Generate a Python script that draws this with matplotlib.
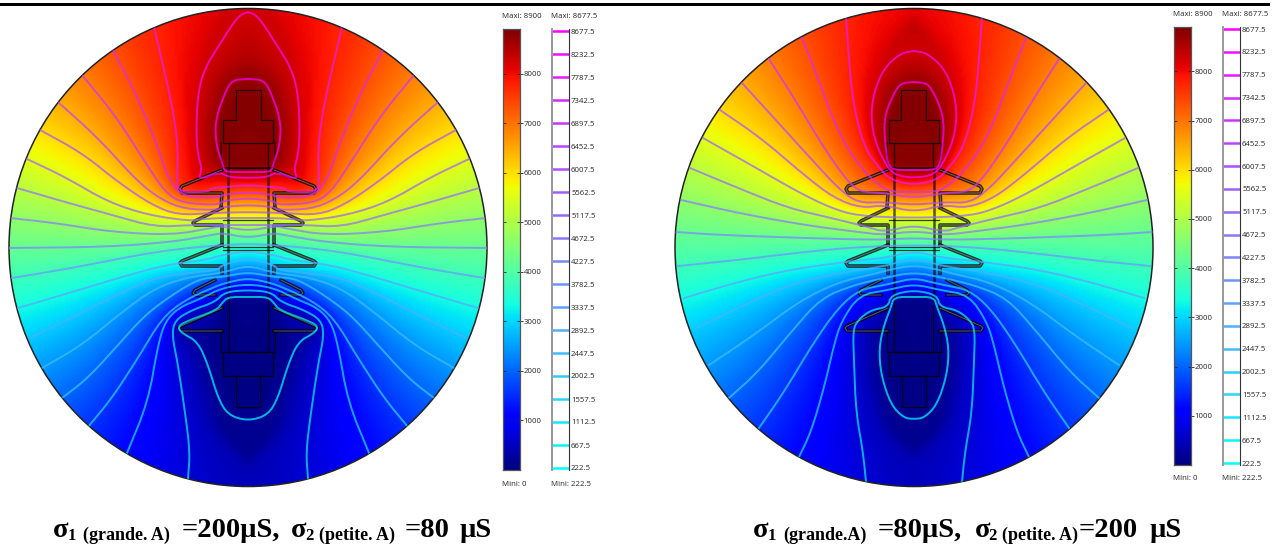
#!/usr/bin/python
# -*- coding: utf-8 -*-
import numpy as np
import matplotlib
matplotlib.use('Agg')
from matplotlib import pyplot as plt
from matplotlib.patches import Circle, Rectangle
from matplotlib.transforms import IdentityTransform

W, H = 1286, 549

# contour levels, top electrode to bottom electrode
levels = [8677.5, 8232.5, 7787.5, 7342.5, 6897.5, 6452.5, 6007.5, 5562.5, 5117.5, 4672.5,
          4227.5, 3782.5, 3337.5, 2892.5, 2447.5, 2002.5, 1557.5, 1112.5, 667.5, 222.5]
bar_ticks = [1000, 2000, 3000, 4000, 5000, 6000, 7000, 8000]
v_max = 8900
v_min = 0

# half contours: (distance from axis, y in picture)
left_contours = [
    [(0,79),(16,80),(23,93),(30,112),(33,128),(31,148),(26,162),(24,170),(20,172),(0,172)],
    [(0,12),(8,15),(16,25),(30,47),(43,68),(50,92),(52,132),(50,155),(46,170),(50,180),(28,172),(20,177),(0,178)],
    [(94,27),(85,65),(76,105),(70,145),(71,178),(70,192),(40,192),(36,188),(23,187),(0,185)],
    [(135,50),(110,98),(90,148),(80,178),(66,197),(30,198),(26,195),(0,192)],
    [(166,75),(133,115),(103,162),(83,192),(66,203),(30,205),(26,201),(0,198)],
    [(190,102),(150,138),(110,182),(86,200),(63,209),(30,210),(26,207),(0,205)],
    [(208,130),(166,153),(130,182),(96,205),(70,215),(36,213),(0,212)],
    [(221,159),(183,177),(140,202),(100,215),(58,221),(45,219),(26,218),(0,218)],
    [(231,188),(183,202),(136,215),(93,227),(56,225),(30,225),(0,225)],
    [(238,218),(193,223),(136,232),(76,235),(36,228),(28,226),(0,231)],
    [(240,248),(143,247),(76,242),(36,235),(26,233),(0,238)],
    [(236,278),(176,268),(110,255),(70,249),(26,245),(0,244)],
    [(230,308),(176,292),(126,277),(83,265),(43,260),(26,255),(0,251)],
    [(218,338),(176,318),(126,292),(93,278),(60,273),(30,270),(26,265),(0,258)],
    [(206,368),(166,345),(126,312),(93,288),(60,277),(26,273),(0,265)],
    [(186,398),(160,378),(130,345),(103,315),(76,295),(56,283),(43,278),(26,277),(0,272)],
    [(160,427),(136,398),(110,358),(86,318),(63,300),(36,288),(23,283),(0,278)],
    [(121,453),(100,402),(90,345),(83,322),(70,308),(46,298),(26,288),(0,284)],
    [(60,478),(58,452),(63,412),(70,365),(76,335),(73,320),(56,310),(33,302),(23,292),(0,290)],
    [(0,297),(20,297),(26,303),(31,310),(66,323),(70,328),(66,333),(50,342),(40,365),(30,398),(20,415),(0,421)],
]
right_contours = [
    [(0,82),(13,83),(20,93),(28,112),(30,128),(28,150),(26,165),(20,170),(0,170)],
    [(0,51),(13,53),(30,68),(40,92),(43,115),(40,138),(30,162),(20,175),(0,178)],
    [(68,18),(65,60),(61,103),(50,147),(35,168),(23,180),(0,185)],
    [(112,38),(96,78),(80,122),(63,155),(40,182),(23,192),(0,192)],
    [(145,59),(120,98),(90,148),(66,182),(53,192),(30,193),(0,198)],
    [(172,83),(140,118),(100,162),(76,188),(56,203),(30,202),(0,205)],
    [(194,110),(153,138),(110,175),(80,198),(53,208),(30,205),(0,212)],
    [(211,138),(163,165),(116,192),(83,208),(56,216),(0,218)],
    [(224,168),(176,188),(126,208),(83,218),(46,227),(30,232),(0,225)],
    [(233,200),(176,213),(110,225),(56,232),(30,235),(0,231)],
    [(238,232),(193,235),(110,238),(36,240),(0,238)],
    [(236,266),(176,260),(110,252),(56,247),(0,245)],
    [(230,298),(176,282),(126,270),(70,262),(30,258),(0,251)],
    [(218,328),(176,308),(126,285),(76,273),(33,267),(0,258)],
    [(205,365),(160,335),(116,302),(76,282),(36,273),(26,270),(0,265)],
    [(185,398),(156,372),(123,332),(93,298),(60,285),(30,278),(0,272)],
    [(155,428),(130,392),(100,342),(76,308),(55,290),(30,285),(21,283),(0,278)],
    [(115,457),(103,432),(90,388),(80,345),(73,322),(55,295),(26,290),(0,284)],
    [(48,482),(51,452),(58,412),(60,362),(61,330),(56,320),(43,310),(26,307),(23,295),(0,290)],
    [(0,297),(20,297),(23,307),(30,325),(35,348),(33,375),(23,405),(10,418),(0,419)],
]

# the two electrodes, they sit at the max and min of the field
top_electrode = [(0,100),(14,100),(14,122),(22,122),(22,165),(0,165)]
bottom_electrode = [(0,300),(18,300),(18,350),(22,350),(22,376),(12,376),(12,405),(0,405)]

# insulator outline, same in both panels
outline_paths = [
    [(0,90),(12.5,90),(12.5,120),(25,120),(25,143),(0,143)],
    [(27,143),(27,160),(25,168)],
    [(19.5,143),(19.5,168),(0,168)],
    [(25,220),(0,220)],
    [(25,247),(0,247)],
    [(25,250),(0,250)],
    [(19.5,297),(0,297)],
    [(19.5,297),(19.5,352),(0,352)],
    [(27,330),(27,352),(0,352)],
    [(25,352),(25,376),(0,376)],
    [(12,376),(12,407),(0,407)],
]
core_path = [(20,168),(20,297)]
shed_paths = [
    [(26,170),(66,186),(68,189),(66,193),(26,193),(27,207)],
    [(26,208),(53,221),(55,223),(53,225),(26,225),(26,245)],
    [(26,245),(66,261),(68,263),(66,266),(26,266),(26,273)],
    [(33,280),(53,290),(55,293),(53,295),(33,295)],
    [(26,308),(67,326),(69,328),(67,331),(26,331)],
]

# caption pieces: text, size, x in picture, drop below baseline
left_caption = [('σ', 20.5, 53, 0), ('1', 12, 68, 3), ('(grande. A)', 13, 83, 3), ('=200µS,', 20.5, 182, 0),
                ('σ', 20.5, 291, 0), ('2', 12, 305, 3), ('(petite. A)', 13, 319, 3), ('=80', 20.5, 405, 0),
                ('µS', 20.5, 460, 0)]
right_caption = [('σ', 20.5, 753, 0), ('1', 12, 768, 3), ('(grande.A)', 13, 783, 3), ('=80µS,', 20.5, 878, 0),
                 ('σ', 20.5, 975, 0), ('2', 12, 988, 3), ('(petite. A)', 13, 1002, 3), ('=200', 20.5, 1079, 0),
                 ('µS', 20.5, 1150, 0)]


def smooth_full(path, n=2):
    # mirror the half contour and round its corners
    p = np.array(path, dtype=float)
    q = np.vstack([np.c_[-p[:, 0], p[:, 1]], p[::-1]])
    keep = np.r_[True, np.any(np.diff(q, axis=0) != 0, axis=1)]
    q = q[keep]
    for _ in range(n):
        a, b = q[:-1], q[1:]
        mid = np.empty((2 * len(a), 2))
        mid[0::2] = 0.75 * a + 0.25 * b
        mid[1::2] = 0.25 * a + 0.75 * b
        q = np.vstack([q[0], mid, q[-1]])
    return q


def densify(p, step=2.0):
    d = np.r_[0, np.cumsum(np.hypot(*np.diff(p, axis=0).T))]
    s = np.arange(0, d[-1] + step, step)
    return np.c_[np.interp(s, d, p[:, 0]), np.interp(s, d, p[:, 1])]


def blur(a, size=5, passes=3):
    # plain box passes, no scipy here
    k = np.ones(size) / size
    pad = size // 2
    for _ in range(passes):
        a = np.apply_along_axis(lambda r: np.convolve(np.pad(r, pad, mode='edge'), k, 'valid'), 0, a)
        a = np.apply_along_axis(lambda r: np.convolve(np.pad(r, pad, mode='edge'), k, 'valid'), 1, a)
    return a


def field_from_contours(contours):
    # shade between the read contours, by distance to the two nearest levels
    paths = [np.array(top_electrode, float)] + [smooth_full(c) for c in contours] + [np.array(bottom_electrode, float)]
    vals = np.array([v_max] + levels + [v_min], dtype=float)
    u = np.arange(0, 242, 2.0)
    y = np.arange(6, 490, 2.0)
    uu, yy = np.meshgrid(u, y)
    dist = np.zeros((len(paths),) + uu.shape)
    for i, path in enumerate(paths):
        pts = densify(path)
        pts = pts[pts[:, 0] >= -4]
        d = np.hypot(uu[..., None] - pts[:, 0], yy[..., None] - pts[:, 1])
        dist[i] = d.min(axis=2) + 0.01
    near = dist.argmin(axis=0)
    rows, cols = np.indices(near.shape)
    up = np.clip(near - 1, 0, len(paths) - 1)
    dn = np.clip(near + 1, 0, len(paths) - 1)
    d_up = np.where(near == 0, 1e9, dist[up, rows, cols])
    d_dn = np.where(near == len(paths) - 1, 1e9, dist[dn, rows, cols])
    other = np.where(d_up < d_dn, up, dn)
    d_a = dist[near, rows, cols]
    d_b = dist[other, rows, cols]
    half = (vals[near] * d_b + vals[other] * d_a) / (d_a + d_b)
    return blur(np.hstack([half[:, :0:-1], half])), u[-1], y


def axes_px(fig, x0, y0, x1, y1):
    return fig.add_axes([x0 / W, 1 - y1 / H, (x1 - x0) / W, (y1 - y0) / H])


def draw_disc(fig, cx, contours):
    ax = axes_px(fig, cx - 241, 6, cx + 241, 489)
    ax.axis('off')
    field, umax, y = field_from_contours(contours)
    disc = Circle((0, 247.5), 239, transform=ax.transData, fc='none', ec='none')
    ax.add_patch(disc)
    im = ax.imshow(field, cmap='jet', vmin=v_min, vmax=v_max, interpolation='bilinear', aspect='auto',
                   extent=[-umax - 1, umax + 1, y[-1] + 1, y[0] - 1])
    im.set_clip_path(disc)
    ax.set_xlim(-241, 241)
    ax.set_ylim(489, 6)
    for path in outline_paths:
        p = np.array(path, dtype=float)
        ax.plot(np.r_[-p[:, 0], p[::-1, 0]], np.r_[p[:, 1], p[::-1, 1]], color='black', lw=0.9, alpha=0.75)
    core = np.array(core_path, dtype=float)
    for sgn in (-1, 1):
        ax.plot(sgn * core[:, 0], core[:, 1], color='black', lw=1.8, alpha=0.65)
    for path in shed_paths:
        p = np.array(path, dtype=float)
        for sgn in (-1, 1):
            ax.plot(sgn * p[:, 0], p[:, 1], color='black', lw=2.6, alpha=0.75, solid_joinstyle='round')
            ax.plot(sgn * p[:, 0], p[:, 1], color='#999999', lw=0.7, alpha=0.6)
    cool = plt.get_cmap('cool')
    for lev, path in zip(levels, contours):
        q = smooth_full(path)
        line, = ax.plot(q[:, 0], q[:, 1], lw=1.4, alpha=0.72,
                        color=cool((lev - levels[-1]) / (levels[0] - levels[-1])))
        line.set_clip_path(disc)
    ax.add_patch(Circle((0, 247.5), 239, fc='none', ec='#222222', lw=1.1))


def draw_bars(fig, x_bar, x_leg, y_top, y_bot, y_max_text, y_min_text):
    font = dict(family='Noto Sans', fontsize=5.6, color='#333333')
    # colour bar, value scale
    ax = axes_px(fig, x_bar, y_top, x_bar + 16.5, y_bot)
    grad = np.linspace(v_min, v_max, 256)[:, None]
    ax.imshow(grad, cmap='jet', origin='lower', aspect='auto', extent=[0, 1, v_min, v_max])
    ax.hlines(bar_ticks, 0, 0.2, color='#222222', lw=0.6)
    ax.set_xticks([])
    ax.set_yticks(bar_ticks)
    ax.set_yticklabels([str(t) for t in bar_ticks], **font)
    ax.yaxis.tick_right()
    ax.tick_params(axis='y', direction='inout', length=4, width=0.6, pad=1, color='#222222')
    for s in ax.spines.values():
        s.set_linewidth(0.9)
        s.set_color('#555555')
    # contour level legend
    ax2 = axes_px(fig, x_leg, y_top, x_leg + 17, y_bot)
    scale = (y_bot - y_top - 4) / (levels[0] - levels[-1])
    ax2.set_ylim(levels[-1] - 2 / scale, levels[0] + 2 / scale)
    ax2.set_xlim(0, 1)
    cool = plt.get_cmap('cool')
    for lev in levels:
        ax2.hlines(lev, 0, 1, lw=1.8, color=cool((lev - levels[-1]) / (levels[0] - levels[-1])))
    ax2.set_xticks([])
    ax2.set_yticks(levels)
    ax2.set_yticklabels([str(v) for v in levels], **font)
    ax2.yaxis.tick_right()
    ax2.tick_params(axis='y', length=0, pad=1.5)
    ax2.spines['top'].set_visible(False)
    ax2.spines['bottom'].set_visible(False)
    ax2.spines['left'].set_color('#999999')
    ax2.spines['left'].set_linewidth(1.4)
    ax2.spines['right'].set_color('#333333')
    ax2.spines['right'].set_linewidth(0.8)
    tr = IdentityTransform()
    fig.text(x_bar - 1, H - y_max_text, 'Maxi: 8900', transform=tr, va='center', **font)
    fig.text(x_leg - 1, H - y_max_text, 'Maxi: 8677.5', transform=tr, va='center', **font)
    fig.text(x_bar - 1, H - y_min_text, 'Mini: 0', transform=tr, va='center', **font)
    fig.text(x_leg - 1, H - y_min_text, 'Mini: 222.5', transform=tr, va='center', **font)


def draw_caption(fig, runs):
    for text, size, x, drop in runs:
        fig.text(x, H - 537 - drop, text, transform=IdentityTransform(), family='Liberation Serif',
                 weight='bold', fontsize=size, va='baseline', color='black')


fig = plt.figure(figsize=(W / 100, H / 100), dpi=100, facecolor='white')
fig.add_artist(Rectangle((0, H - 6), 1270, 2.6, transform=IdentityTransform(), fc='black', ec='none'))

draw_disc(fig, 248, left_contours)
draw_disc(fig, 914, right_contours)
draw_bars(fig, 503, 552, 29, 470, 17, 484)
draw_bars(fig, 1174, 1223, 27, 465, 15, 478)

draw_caption(fig, left_caption)
draw_caption(fig, right_caption)

fig.savefig('out.png', dpi=100)
